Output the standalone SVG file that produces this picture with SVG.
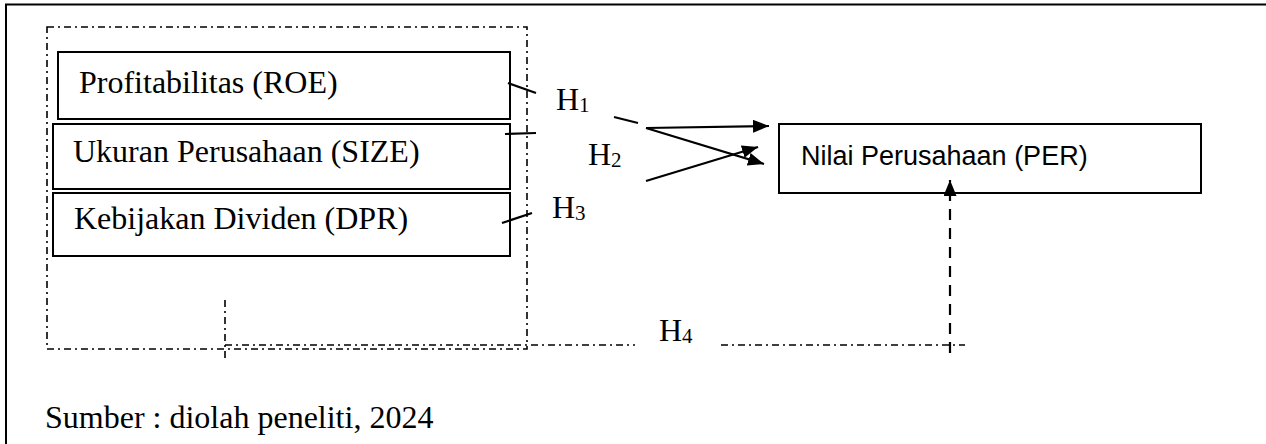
<svg xmlns="http://www.w3.org/2000/svg" width="1266" height="444" viewBox="0 0 1266 444">
<style>
.box{fill:#fff;stroke:#000;stroke-width:2}
.serif{font-family:"Liberation Serif","Times New Roman",serif;font-size:32px;fill:#000}
.sans{font-family:"Liberation Sans",Arial,sans-serif;font-size:27px;fill:#000}
.sub{font-size:21px}
.dd{fill:none;stroke:#000;stroke-width:1.6;stroke-dasharray:7 4 2 4}
.arr{fill:none;stroke:#000;stroke-width:2.2}
</style>
<defs>
<marker id="ah" markerUnits="userSpaceOnUse" markerWidth="18" markerHeight="14" refX="16" refY="6.5" orient="auto">
<path d="M0,0 L16,6.5 L0,13 z" fill="#000"/>
</marker>
</defs>
<rect x="0" y="0" width="1266" height="444" fill="#fff"/>
<rect x="6" y="4.5" width="1275" height="460" fill="none" stroke="#000" stroke-width="2"/>

<g id="group-frame">
<rect class="dd" x="47" y="27" width="480" height="322"/>
</g>

<g id="node-roe">
<rect class="box" x="58" y="52" width="452" height="67"/>
<text class="serif" x="79" y="93">Profitabilitas (ROE)</text>
</g>
<g id="node-size">
<rect class="box" x="53" y="124" width="457" height="65"/>
<text class="serif" x="73" y="162">Ukuran Perusahaan (SIZE)</text>
</g>
<g id="node-dpr">
<rect class="box" x="53" y="193" width="457" height="63"/>
<text class="serif" x="74" y="229">Kebijakan Dividen (DPR)</text>
</g>
<g id="node-per">
<rect class="box" x="779" y="124" width="422" height="69"/>
<text class="sans" x="801" y="165">Nilai Perusahaan (PER)</text>
</g>

<g id="connectors">
<line class="arr" x1="508" y1="83" x2="536" y2="93"/>
<line class="arr" x1="505" y1="134" x2="536" y2="133"/>
<line class="arr" x1="502" y1="223" x2="532" y2="213"/>
<line class="arr" x1="614" y1="117" x2="638" y2="123"/>
<line class="arr" x1="646" y1="128" x2="769" y2="126" marker-end="url(#ah)"/>
<line class="arr" x1="646" y1="128" x2="764" y2="164" marker-end="url(#ah)"/>
<line class="arr" x1="646" y1="181" x2="758" y2="147" marker-end="url(#ah)"/>
<line class="dd" x1="225" y1="300" x2="225" y2="362"/>
<line class="dd" x1="225" y1="345" x2="635" y2="345"/>
<line class="dd" x1="721" y1="345" x2="965" y2="345"/>
<line fill="none" stroke="#000" stroke-width="2.2" stroke-dasharray="11 8" x1="950" y1="353" x2="950" y2="180" marker-end="url(#ah)"/>
</g>

<g id="labels">
<text class="serif" x="556" y="110">H<tspan class="sub" dy="2">1</tspan></text>
<text class="serif" x="588" y="165">H<tspan class="sub" dy="2">2</tspan></text>
<text class="serif" x="552" y="218">H<tspan class="sub" dy="2">3</tspan></text>
<text class="serif" x="659" y="341">H<tspan class="sub" dy="2">4</tspan></text>
<text class="serif" x="45" y="428">Sumber : diolah peneliti, 2024</text>
</g>
</svg>
